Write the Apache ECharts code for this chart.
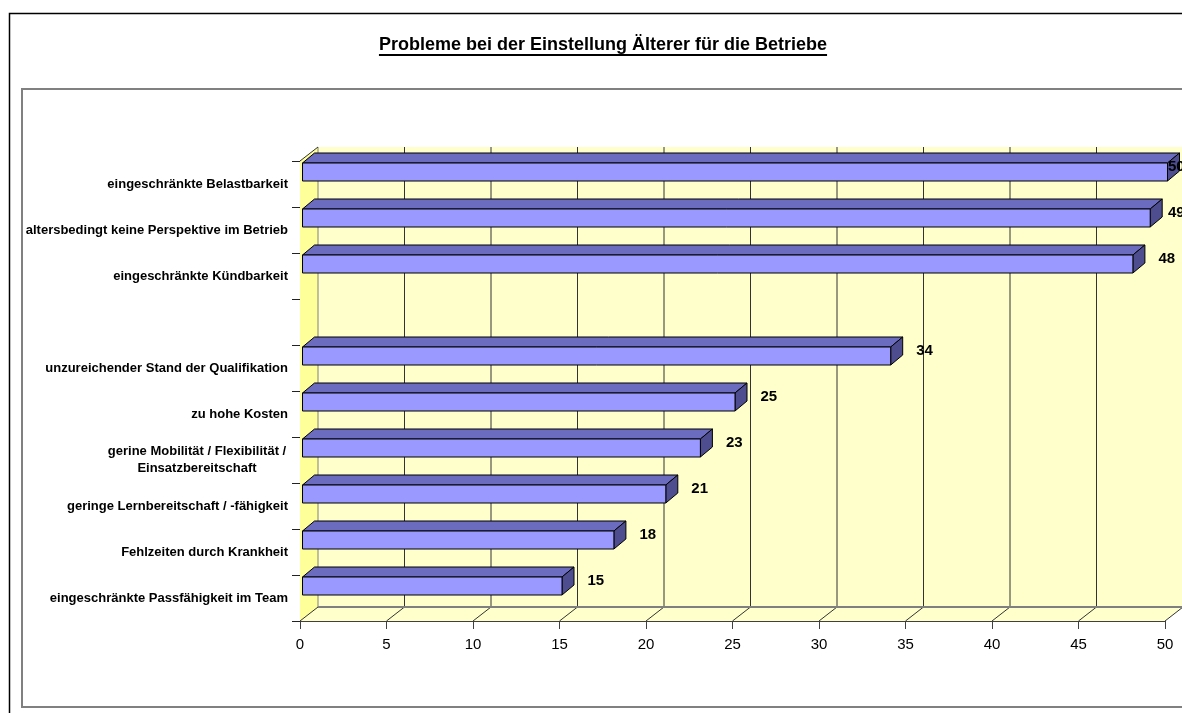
<!DOCTYPE html>
<html>
<head>
<meta charset="utf-8">
<script src="https://cdn.jsdelivr.net/npm/echarts@6/dist/echarts.min.js"></script>
<style>
  html, body { margin: 0; padding: 0; background: #fff; }
  #chart { width: 1182px; height: 713px; }
</style>
</head>
<body>
<div id="chart"></div>
<script>
// Survey answers: problems companies see when hiring older workers
const titleText = 'Probleme bei der Einstellung Älterer für die Betriebe';
const categories = [
  'eingeschränkte Belastbarkeit',
  'altersbedingt keine Perspektive im Betrieb',
  'eingeschränkte Kündbarkeit',
  '',
  'unzureichender Stand der Qualifikation',
  'zu hohe Kosten',
  'gerine Mobilität / Flexibilität /\nEinsatzbereitschaft',
  'geringe Lernbereitschaft / -fähigkeit',
  'Fehlzeiten durch Krankheit',
  'eingeschränkte Passfähigkeit im Team'
];
const values = [50, 49, 48, null, 34, 25, 23, 21, 18, 15];
const xTickLabels = ['0', '5', '10', '15', '20', '25', '30', '35', '40', '45', '50'];

const X_MIN = 0, X_MAX = 50, X_STEP = 5;
const FONT = '"Liberation Sans", Arial, sans-serif';

// pseudo-3D depth of the walls and of the bars (pixels)
const WALL_DX = 18, WALL_DY = -14;
const BAR_DX = 12, BAR_DY = -10;
const BAR_H = 18, BAR_SHIFT_X = 2.5, BAR_SHIFT_Y = -12;

const chart = echarts.init(document.getElementById('chart'), null, { renderer: 'canvas' });

const measure = document.createElement('canvas').getContext('2d');
measure.font = 'bold 18px ' + FONT;
const titleWidth = measure.measureText(titleText).width;

function renderWalls(params, api) {
  const cs = params.coordSys;
  const x0 = cs.x, x1 = cs.x + cs.width, yT = cs.y, yB = cs.y + cs.height;
  const children = [];
  // back wall
  children.push({
    type: 'rect',
    shape: { x: x0 + WALL_DX, y: yT + WALL_DY, width: x1 - x0, height: yB - yT },
    style: { fill: '#FFFFCC' }
  });
  // floor
  children.push({
    type: 'polygon',
    shape: { points: [[x0, yB], [x1, yB], [x1 + WALL_DX, yB + WALL_DY], [x0 + WALL_DX, yB + WALL_DY]] },
    style: { fill: '#FFFFCC' }
  });
  // left side wall
  children.push({
    type: 'polygon',
    shape: { points: [[x0, yT], [x0 + WALL_DX, yT + WALL_DY], [x0 + WALL_DX, yB + WALL_DY], [x0, yB]] },
    style: { fill: '#FFFF99' }
  });
  // gridlines on the back wall and their continuation across the floor
  for (let v = X_MIN; v <= X_MAX; v += X_STEP) {
    const x = api.coord([v, 0])[0];
    children.push({
      type: 'line',
      shape: { x1: x + WALL_DX, y1: yT + WALL_DY, x2: x + WALL_DX, y2: yB + WALL_DY },
      style: { stroke: v === X_MIN ? '#808080' : '#333333', lineWidth: 1 }
    });
    children.push({
      type: 'line',
      shape: { x1: x, y1: yB, x2: x + WALL_DX, y2: yB + WALL_DY },
      style: { stroke: '#333333', lineWidth: 1 }
    });
  }
  // back edge of the floor
  children.push({
    type: 'line',
    shape: { x1: x0 + WALL_DX, y1: yB + WALL_DY, x2: x1 + WALL_DX, y2: yB + WALL_DY },
    style: { stroke: '#808080', lineWidth: 2 }
  });
  // top edge of the side wall
  children.push({
    type: 'line',
    shape: { x1: x0, y1: yT, x2: x0 + WALL_DX, y2: yT + WALL_DY },
    style: { stroke: '#333333', lineWidth: 1 }
  });
  return { type: 'group', children: children };
}

function renderBar(params, api) {
  const v = api.value(0);
  const i = api.value(1);
  const p0 = api.coord([0, i]);
  const p1 = api.coord([v, i]);
  const xa = p0[0] + BAR_SHIFT_X;
  const xb = p1[0] + BAR_SHIFT_X;
  const yTop = p0[1] + BAR_SHIFT_Y - BAR_H / 2;
  const yBot = yTop + BAR_H;
  const edge = { stroke: '#000', lineWidth: 1, lineJoin: 'round' };
  const cs = params.coordSys;
  const labelX = Math.min(p1[0] + 28, cs.x + cs.width + 3);
  return {
    type: 'group',
    children: [
      {
        type: 'polygon',
        shape: { points: [[xa, yTop], [xb, yTop], [xb + BAR_DX, yTop + BAR_DY], [xa + BAR_DX, yTop + BAR_DY]] },
        style: Object.assign({ fill: '#6B6BBF' }, edge)
      },
      {
        type: 'polygon',
        shape: { points: [[xb, yTop], [xb + BAR_DX, yTop + BAR_DY], [xb + BAR_DX, yBot + BAR_DY], [xb, yBot]] },
        style: Object.assign({ fill: '#4D4D8F' }, edge)
      },
      {
        type: 'rect',
        shape: { x: xa, y: yTop, width: xb - xa, height: BAR_H },
        style: Object.assign({ fill: '#9999FF' }, edge)
      },
      {
        type: 'text',
        x: labelX,
        y: p0[1] - 17,
        style: {
          text: String(v),
          fill: '#000',
          font: 'bold 15px ' + FONT,
          align: 'left',
          verticalAlign: 'middle'
        }
      }
    ]
  };
}

const barData = [];
values.forEach(function (v, i) {
  if (v !== null) barData.push([v, i]);
});

const option = {
  animation: false,
  backgroundColor: '#ffffff',
  graphic: [
    {
      type: 'rect', z: 0, silent: true,
      shape: { x: 9.5, y: 13.5, width: 1200, height: 730 },
      style: { fill: 'none', stroke: '#000', lineWidth: 1.5 }
    },
    {
      type: 'rect', z: 0, silent: true,
      shape: { x: 22, y: 89, width: 1200, height: 618 },
      style: { fill: 'none', stroke: '#808080', lineWidth: 2 }
    },
    {
      type: 'text', z: 10,
      x: 603, y: 45,
      style: {
        text: titleText,
        font: 'bold 18px ' + FONT,
        fill: '#000',
        align: 'center',
        verticalAlign: 'middle'
      }
    },
    {
      type: 'line', z: 10,
      shape: { x1: 603 - titleWidth / 2, y1: 55, x2: 603 + titleWidth / 2, y2: 55 },
      style: { stroke: '#000', lineWidth: 2 }
    }
  ],
  grid: { left: 300, right: 17, top: 161, bottom: 92, containLabel: false },
  xAxis: {
    type: 'value',
    min: X_MIN, max: X_MAX, interval: X_STEP,
    axisLine: { show: true, lineStyle: { color: '#404040', width: 1 } },
    axisTick: { show: true, length: 8, lineStyle: { color: '#404040' } },
    splitLine: { show: false },
    axisLabel: {
      margin: 16,
      color: '#000',
      fontFamily: FONT,
      fontSize: 15,
      formatter: function (val) {
        return xTickLabels[Math.round((val - X_MIN) / X_STEP)];
      }
    }
  },
  yAxis: {
    type: 'category',
    inverse: true,
    data: categories,
    axisLine: { show: true, onZero: false, lineStyle: { color: '#222', width: 1 } },
    axisTick: { show: true, length: 8, alignWithLabel: false, lineStyle: { color: '#222' } },
    splitLine: { show: false },
    axisLabel: {
      margin: 12,
      color: '#000',
      fontFamily: FONT,
      fontSize: 13,
      fontWeight: 'bold',
      lineHeight: 17,
      interval: 0,
      formatter: function (val) {
        if (val.indexOf('\n') >= 0) {
          return val.split('\n').map(function (s) { return '{c|' + s + '}'; }).join('\n');
        }
        return val;
      },
      rich: {
        c: {
          width: 182,
          align: 'center',
          fontFamily: FONT,
          fontSize: 13,
          fontWeight: 'bold',
          lineHeight: 17,
          color: '#000'
        }
      }
    }
  },
  series: [
    {
      type: 'custom',
      name: 'walls',
      z: 1,
      silent: true,
      renderItem: renderWalls,
      data: [[0, 0]],
      encode: { x: 0, y: 1 }
    },
    {
      type: 'custom',
      name: 'Anteil',
      z: 3,
      renderItem: renderBar,
      data: barData,
      encode: { x: 0, y: 1 }
    }
  ]
};

chart.setOption(option);
</script>
</body>
</html>
